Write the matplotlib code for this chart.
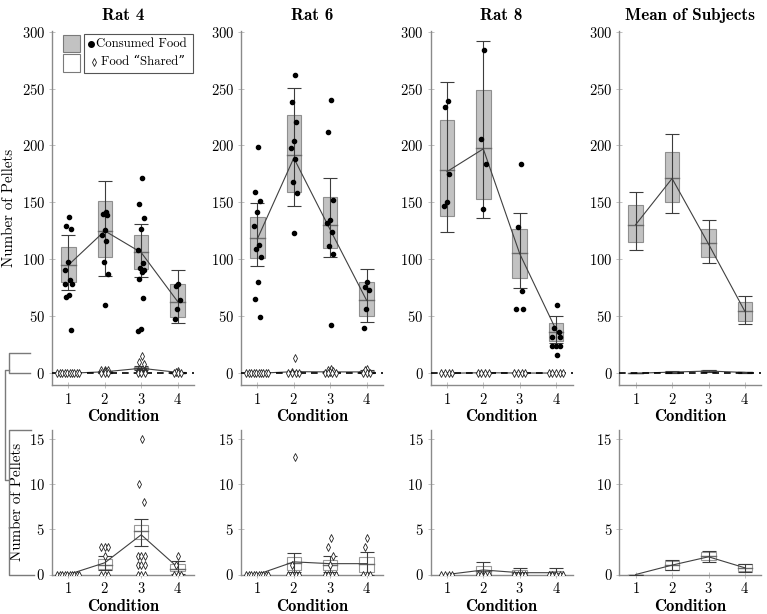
import numpy as np
import matplotlib.pyplot as plt
from matplotlib.patches import Rectangle
from matplotlib.lines import Line2D

plt.rcParams['font.family'] = ['cmr10', 'DejaVu Serif']
plt.rcParams['axes.unicode_minus'] = False
plt.rcParams['axes.formatter.use_mathtext'] = True

conditions = [1, 2, 3, 4]
titles = ['Rat 4', 'Rat 6', 'Rat 8', 'Mean of Subjects']

# consumed food, one list of pellets per condition
rat4_food = [[137, 129, 127, 98, 91, 82, 78, 78, 69, 67, 38],
             [142, 140, 139, 126, 121, 116, 98, 87, 60],
             [171, 149, 136, 127, 108, 97, 92, 91, 89, 83, 66, 39, 37],
             [78, 77, 64, 56, 48]]
rat6_food = [[199, 159, 151, 142, 129, 113, 109, 102, 80, 65, 49],
             [262, 238, 221, 204, 198, 188, 168, 158, 123],
             [240, 212, 152, 135, 132, 124, 112, 105, 42],
             [80, 76, 73, 56, 40]]
rat8_food = [[239, 234, 175, 150, 147],
             [284, 206, 184, 144],
             [184, 128, 72, 56, 56],
             [60, 40, 36, 32, 32, 24, 24, 24, 16]]
mean_food = [[], [], [], []]

# food "shared"
rat4_shared = [[0] * 10, [3, 3, 3, 2, 0, 0, 0],
               [15, 10, 8, 2, 2, 2, 1, 1, 1, 0, 0, 0], [2, 1, 0, 0, 0]]
rat6_shared = [[0] * 10, [13, 1, 0, 0, 0, 0],
               [4, 3, 2, 1, 0, 0, 0, 0], [4, 3, 0, 0, 0]]
rat8_shared = [[0] * 4, [0] * 4, [0] * 4, [0] * 5]
mean_shared = [[], [], [], []]

# box low, box high, median, mean, error low, error high
rat4_food_stats = [[79.8, 110.8, 94.7, 95, 73.3, 121],
                   [102, 151.6, 125, 125, 85, 169],
                   [91.5, 121, 106.5, 106, 84.5, 131],
                   [49.3, 78.6, 63, 63, 44, 90.3]]
rat6_food_stats = [[101, 137, 118.8, 118, 93.8, 149.6],
                   [159.5, 227, 191.8, 189, 147, 250.7],
                   [110, 154.8, 130.5, 126, 101.8, 171.6],
                   [50.4, 80, 64.5, 64, 44.9, 91.5]]
rat8_food_stats = [[137.8, 222, 178.3, 177, 124, 255.7],
                   [153, 249, 197.7, 197, 136.7, 291.8],
                   [83.9, 126.4, 105.6, 105, 74.5, 140.8],
                   [28.7, 44, 36.4, 38, 26.4, 49.9]]
mean_food_stats = [[115.2, 147.5, 130.5, 130.5, 108.5, 159],
                   [150.4, 194.4, 171.5, 171, 140.8, 210],
                   [102, 126.7, 114.4, 113.5, 96.8, 135],
                   [46.3, 62.2, 54.3, 54.3, 43.4, 68]]

rat4_shared_stats = [[0, 0, 0, 0, 0, 0],
                     [0.6, 1.7, 1.0, 1.3, 0.5, 2.1],
                     [3.9, 5.5, 4.8, 4.4, 3.2, 6.1],
                     [0.35, 1.2, 0.6, 0.8, 0.1, 1.5]]
rat6_shared_stats = [[0, 0, 0, 0, 0, 0],
                     [0.55, 1.9, 1.3, 1.4, 0.3, 2.4],
                     [0.55, 1.6, 1.1, 1.2, 0.3, 2.0],
                     [0.3, 1.96, 1.2, 1.2, 0, 2.5]]
rat8_shared_stats = [[0, 0, 0, 0, 0, 0],
                     [0, 0.9, 0.4, 0.5, 0, 1.4],
                     [0, 0.5, 0.2, 0.2, 0, 0.75],
                     [0, 0.4, 0.2, 0.2, 0, 0.67]]
mean_shared_stats = [[0, 0, 0, 0, 0, 0],
                     [0.55, 1.48, 1.0, 1.04, 0.5, 1.6],
                     [1.6, 2.5, 2.0, 1.96, 1.4, 2.6],
                     [0.37, 1.15, 0.7, 0.74, 0.3, 1.2]]

subjects = [(rat4_food, rat4_food_stats, rat4_shared, rat4_shared_stats),
            (rat6_food, rat6_food_stats, rat6_shared, rat6_shared_stats),
            (rat8_food, rat8_food_stats, rat8_shared, rat8_shared_stats),
            (mean_food, mean_food_stats, mean_shared, mean_shared_stats)]

W, H = 767, 614
fig = plt.figure(figsize=(W / 100, H / 100), dpi=100)


def fx(x):
    return x / W


def fy(y):
    return 1 - y / H


def spread(vals):
    # values that repeat sit side by side, single ones get a small fixed jitter
    vals = np.asarray(vals, float)
    offs = np.zeros(len(vals))
    for v in np.unique(vals):
        idx = np.where(vals == v)[0]
        n = len(idx)
        if n == 1:
            offs[idx] = 0.2 * (((idx[0] + 1) * 0.618034) % 1 - 0.5)
        else:
            half = min(0.3, max(0.1, 0.05 * (n - 1)))
            offs[idx] = np.linspace(-half, half, n)
    return offs


def draw_group(ax, pts_list, stats, food):
    means = []
    for c, (pts, st) in enumerate(zip(pts_list, stats)):
        x = conditions[c]
        lo, hi, med, mean, elo, ehi = st
        if food:
            ax.add_patch(Rectangle((x - 0.2, lo), 0.4, hi - lo, fc='#c2c2c2',
                                   ec='#8f8f8f', lw=0.8, zorder=2))
        else:
            ax.add_patch(Rectangle((x - 0.2, lo), 0.4, hi - lo, fc='white',
                                   ec='#9a9a9a', lw=0.8, zorder=2))
        ax.plot([x - 0.2, x + 0.2], [med, med], color='#6a6a6a', lw=1.0, zorder=2.5)
        ax.errorbar(x, mean, yerr=[[mean - elo], [ehi - mean]], color='#3c3c3c',
                    lw=0.8, capsize=5.2, capthick=0.8, zorder=3)
        means.append(mean)
        if len(pts):
            off = spread(pts)
            if food:
                ax.plot(x + off, pts, 'o', color='black', ms=3, zorder=4)
            else:
                ax.plot(x + off, pts, 'd', mfc='white', mec='#222222', mew=0.6,
                        ms=4, zorder=4)
    ax.plot(conditions, means, color='#404040', lw=0.8, zorder=3.5)


def style(ax, ylim, yticks):
    ax.set_xlim(0.55, 4.45)
    ax.set_ylim(*ylim)
    ax.set_xticks(conditions)
    ax.set_yticks(yticks)
    for s in ['top', 'right']:
        ax.spines[s].set_visible(False)
    for s in ['left', 'bottom']:
        ax.spines[s].set_color('#8a8a8a')
        ax.spines[s].set_linewidth(1.0)
    ax.tick_params(direction='inout', length=4, width=0.6, color='#b5b5b5',
                   labelsize=10.5, pad=3)
    ax.set_xlabel('Condition', fontfamily='cmb10', fontsize=12, labelpad=1.5)


lefts = [52, 241, 430.5, 619.3]
for i, (food, food_stats, shared, shared_stats) in enumerate(subjects):
    # top row: full range
    ax = fig.add_axes([fx(lefts[i]), fy(385), 142 / W, 354 / H])
    style(ax, (-10.3, 300.5), [0, 50, 100, 150, 200, 250, 300])
    ax.axhline(0, color='black', lw=1.2, ls=(0, (4, 3)), zorder=3.8)
    draw_group(ax, shared, shared_stats, False)
    draw_group(ax, food, food_stats, True)
    ax.set_title(titles[i], fontfamily='cmb10', fontsize=12.3, pad=8)
    if i == 0:
        ax.set_ylabel('Number of Pellets', fontsize=10.8)
        ax.yaxis.set_label_coords(-0.255, 0.5)

    # bottom row: zoom on food shared
    ax2 = fig.add_axes([fx(lefts[i]), fy(574.5), 142 / W, 144.5 / H])
    style(ax2, (0, 16), [0, 5, 10, 15])
    draw_group(ax2, shared, shared_stats, False)
    if i == 0:
        ax2.set_ylabel('Number of Pellets', fontsize=10.8)
        ax2.yaxis.set_label_coords(-0.195, 0.5)

# bracket linking the zero band of the top row to the lower row
bc = '#7a7a7a'
for xs, ys in [([30, 9, 9, 30], [353, 353, 373, 373]),
               ([9, 5, 5, 9], [370, 370, 480, 480]),
               ([31, 9, 9, 34], [430, 430, 575, 575])]:
    fig.add_artist(Line2D([fx(v) for v in xs], [fy(v) for v in ys],
                          color=bc, lw=1.0, transform=fig.transFigure))

# legend drawn by hand
fig.add_artist(Rectangle((fx(62.7), fy(52.3)), 17.3 / W, 17.3 / H, fc='#c2c2c2',
                         ec='#7a7a7a', lw=0.8, transform=fig.transFigure))
fig.add_artist(Rectangle((fx(62.7), fy(71.7)), 17.3 / W, 17.3 / H, fc='white',
                         ec='#7a7a7a', lw=0.8, transform=fig.transFigure))
fig.add_artist(Rectangle((fx(84), fy(72.7)), 109 / W, 38.7 / H, fc='white',
                         ec='#555555', lw=0.8, transform=fig.transFigure))
fig.add_artist(Line2D([fx(90.5)], [fy(44.3)], marker='o', color='black', ms=4,
                      transform=fig.transFigure))
fig.add_artist(Line2D([fx(94)], [fy(62)], marker='d', mfc='white', mec='#222222',
                      mew=0.6, ms=4, transform=fig.transFigure))
fig.text(fx(96.5), fy(44.3), 'Consumed Food', fontsize=9.2, va='center', ha='left')
fig.text(fx(101.5), fy(62), 'Food \u201cShared\u201d', fontsize=9.2, va='center', ha='left')

fig.savefig('out.png', dpi=100)
